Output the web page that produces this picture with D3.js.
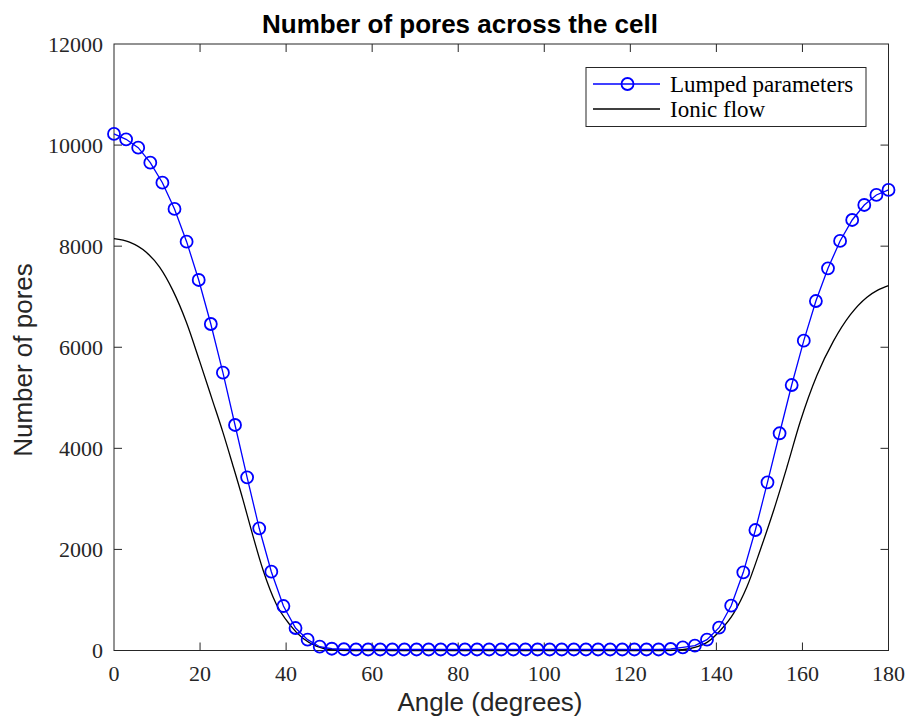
<!DOCTYPE html>
<html>
<head>
<meta charset="utf-8">
<script src="https://cdn.jsdelivr.net/npm/d3@7"></script>
<style>
  html, body { margin: 0; padding: 0; background: #fff; }
  svg { display: block; }
</style>
</head>
<body>
<svg id="chart" width="909" height="722"></svg>
<script>
// ---- data ----
const title = "Number of pores across the cell";
const xLabel = "Angle (degrees)";
const yLabel = "Number of pores";
const seriesNames = ["Lumped parameters", "Ionic flow"];
const xTicks = [0, 20, 40, 60, 80, 100, 120, 140, 160, 180];
const yTicks = [0, 2000, 4000, 6000, 8000, 10000, 12000];

// Lumped parameters: 65 samples, 0..180 deg in steps of 2.8125
const lumpedAngles = d3.range(65).map(i => i * 180 / 64);
const lumpedValues = [
  10220, 10114, 9949, 9652, 9256, 8736, 8089, 7331, 6460, 5497,
  4462, 3427, 2418, 1559, 880, 445, 214, 75, 35, 25,
  20, 20, 20, 20, 20, 20, 20, 20, 20, 20,
  20, 20, 20, 20, 20, 20, 20, 20, 20, 20,
  20, 20, 20, 20, 20, 20, 30, 63, 95, 215,
  451, 886, 1547, 2384, 3328, 4298, 5253, 6130, 6915, 7562,
  8103, 8518, 8815, 9013, 9112
];

// Ionic flow
const ionicAngles = [0, 3.6, 7.5, 10.6, 13.7, 16.8, 19.9, 23.0, 25.3, 27.5,
  30.0, 31.9, 34.6, 37.7, 40.8, 43.9, 47.0, 50.1, 55, 60,
  80, 100, 120, 128, 132, 135, 138, 141, 144, 147.1,
  150.2, 153.3, 156.4, 159.5, 163.4, 167.2, 171.1, 175.0, 177.5, 180];
const ionicValues = [8150, 8080, 7880, 7585, 7120, 6500, 5725, 4920, 4320, 3700,
  2975, 2386, 1603, 921, 518, 240, 85, 20, 0, 0,
  0, 0, 0, 0, 15, 60, 170, 405, 735, 1260,
  1990, 2770, 3630, 4530, 5450, 6120, 6640, 6990, 7130, 7220];

// ---- layout ----
const svg = d3.select("#chart");
const L = 114, R = 888.5, T = 44, B = 650.5;
const x = d3.scaleLinear().domain([0, 180]).range([L, R]);
const y = d3.scaleLinear().domain([0, 12000]).range([B, T]);
const tickLen = 8;
const serif = "'Liberation Serif', 'DejaVu Serif', serif";
const sans = "'Liberation Sans', Arial, sans-serif";

// frame
svg.append("rect")
  .attr("x", L).attr("y", T).attr("width", R - L).attr("height", B - T)
  .attr("fill", "none").attr("stroke", "#262626").attr("stroke-width", 1);

// ticks (inward, all four sides)
const tk = svg.append("g").attr("stroke", "#262626").attr("stroke-width", 1);
xTicks.forEach(v => {
  if (v === 0 || v === 180) return;
  tk.append("line").attr("x1", x(v)).attr("x2", x(v)).attr("y1", B).attr("y2", B - tickLen);
  tk.append("line").attr("x1", x(v)).attr("x2", x(v)).attr("y1", T).attr("y2", T + tickLen);
});
yTicks.forEach(v => {
  if (v === 0 || v === 12000) return;
  tk.append("line").attr("x1", L).attr("x2", L + tickLen).attr("y1", y(v)).attr("y2", y(v));
  tk.append("line").attr("x1", R).attr("x2", R - tickLen).attr("y1", y(v)).attr("y2", y(v));
});

// tick labels
svg.append("g").selectAll("text").data(xTicks).join("text")
  .attr("x", d => x(d)).attr("y", B + 30)
  .attr("text-anchor", "middle")
  .attr("font-family", serif).attr("font-size", 22).attr("fill", "#262626")
  .text(d => d);
svg.append("g").selectAll("text").data(yTicks).join("text")
  .attr("x", L - 11).attr("y", d => y(d)).attr("dy", "0.35em")
  .attr("text-anchor", "end")
  .attr("font-family", serif).attr("font-size", 22).attr("fill", "#262626")
  .text(d => d);

// Ionic flow line
const ionic = ionicAngles.map((a, i) => [a, ionicValues[i]]);
svg.append("path")
  .datum(ionic)
  .attr("fill", "none").attr("stroke", "#000").attr("stroke-width", 1.3)
  .attr("d", d3.line().x(d => x(d[0])).y(d => y(d[1])).curve(d3.curveMonotoneX));

// Lumped parameters line + markers
const lumped = lumpedAngles.map((a, i) => [a, lumpedValues[i]]);
svg.append("path")
  .datum(lumped)
  .attr("fill", "none").attr("stroke", "#0000ff").attr("stroke-width", 1.3)
  .attr("d", d3.line().x(d => x(d[0])).y(d => y(d[1])));
svg.append("g").selectAll("circle").data(lumped).join("circle")
  .attr("cx", d => x(d[0])).attr("cy", d => y(d[1])).attr("r", 6)
  .attr("fill", "none").attr("stroke", "#0000ff").attr("stroke-width", 1.8);

// legend
const lg = svg.append("g");
lg.append("rect").attr("x", 586).attr("y", 67.5).attr("width", 280).attr("height", 59)
  .attr("fill", "#fff").attr("stroke", "#262626").attr("stroke-width", 1);
lg.append("line").attr("x1", 593).attr("x2", 660).attr("y1", 84).attr("y2", 84)
  .attr("stroke", "#0000ff").attr("stroke-width", 1.3);
lg.append("circle").attr("cx", 627.5).attr("cy", 84).attr("r", 6)
  .attr("fill", "none").attr("stroke", "#0000ff").attr("stroke-width", 1.8);
lg.append("line").attr("x1", 593).attr("x2", 660).attr("y1", 109).attr("y2", 109)
  .attr("stroke", "#000").attr("stroke-width", 1.3);
lg.selectAll("text.lbl").data(seriesNames).join("text")
  .attr("class", "lbl")
  .attr("x", 670).attr("y", (d, i) => 84 + i * 25).attr("dy", "0.35em")
  .attr("font-family", serif).attr("font-size", 23).attr("fill", "#000")
  .text(d => d);

// title & axis labels
svg.append("text").attr("x", 460).attr("y", 33)
  .attr("text-anchor", "middle").attr("font-family", sans).attr("font-weight", "bold")
  .attr("font-size", 26).attr("fill", "#000").text(title);
svg.append("text").attr("x", 490).attr("y", 711)
  .attr("text-anchor", "middle").attr("font-family", sans)
  .attr("font-size", 26).attr("fill", "#262626").text(xLabel);
svg.append("text").attr("transform", `translate(32,360) rotate(-90)`)
  .attr("text-anchor", "middle").attr("font-family", sans)
  .attr("font-size", 26).attr("fill", "#262626").text(yLabel);
</script>
</body>
</html>
